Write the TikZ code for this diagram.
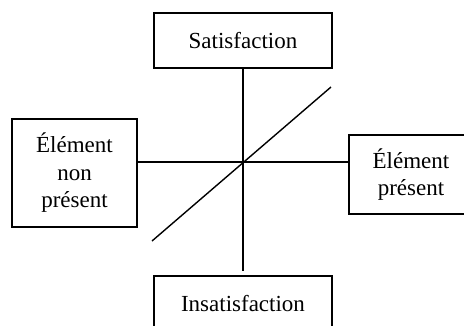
\documentclass[tikz,border=0pt]{standalone}
\usepackage{fontspec}
\setmainfont{Liberation Serif}
\begin{document}
\begin{tikzpicture}[x=1pt,y=-1pt,
  box/.style={draw, line width=1.5pt, inner sep=0pt, align=center,
    font=\fontsize{23}{27.5}\selectfont},
  ln/.style={line width=1.4pt}]
\useasboundingbox (0,0) rectangle (464,325);
\clip (0,0) rectangle (464,325);
\node[box, minimum width=178pt, minimum height=55pt] (top) at (243,40.5) {Satisfaction};
\node[box, minimum width=125pt, minimum height=108pt] (left) at (74.5,173) {Élément\\non\\présent};
\node[box, minimum width=124pt, minimum height=79pt] (right) at (411,174.5) {Élément\\présent};
\node[box, minimum width=178pt, minimum height=55pt] (bot) at (243,303.5) {Insatisfaction};
\coordinate (c) at (243,162);
\coordinate (d1) at (152,241);
\coordinate (d2) at (331,87);
\draw[ln, shorten >=4pt] (top.south) -- (bot.north);
\draw[ln] (left.east |- c) -- (right.west |- c);
\draw[ln] (d1) -- (d2);
\end{tikzpicture}
\end{document}
